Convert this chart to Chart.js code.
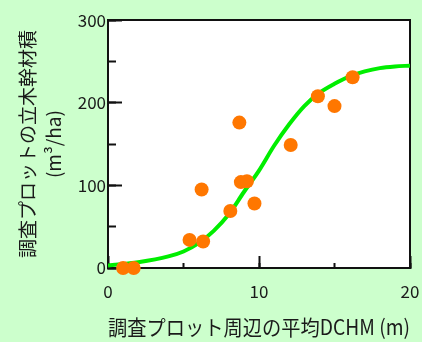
<!DOCTYPE html>
<html>
<head>
<meta charset="utf-8">
<title>立木幹材積と平均DCHM</title>
<script src="https://cdn.jsdelivr.net/npm/chart.js"></script>
<style>
    html, body { margin: 0; padding: 0; background: #ccffcc; }
    #wrap { position: relative; width: 422px; height: 342px; }
    #plotBg { position: absolute; background: #ffffff; }
    #volChart { position: relative; z-index: 1; }
</style>
</head>
<body>
<div id="wrap">
    <div id="plotBg"></div>
    <canvas id="volChart" width="422" height="342"></canvas>
</div>
<script>
// plot observations: mean DCHM (m) vs stem volume (m3/ha)
const plotDchm   = [1.0, 1.7, 5.4, 6.3, 6.2, 8.1, 8.7, 8.8, 9.2, 9.7, 12.1, 13.9, 15.0, 16.2];
const plotVolume = [0,   0,   34,  32,  95,  69,  176, 104, 105, 78,  149,  208,  196,  231];

// fitted curve
const curveDchm   = [0, 2, 4, 5, 6, 7, 8, 9, 10, 11, 12, 13, 14, 15, 16, 17, 18, 19, 20];
const curveVolume = [3, 7, 14, 20, 30, 45, 65, 92, 118, 148, 174, 196, 212, 223, 232, 238, 242, 244, 245];

const xTickLabels = [0, 10, 20];
const yTickLabels = [0, 100, 200, 300];

Chart.defaults.font.family = '"Noto Sans CJK JP", "Noto Sans", sans-serif';
Chart.defaults.color = '#1a1a1a';

const frameColor = '#111111';
const frame = { display: true, color: frameColor, width: 2 };
const noFrame = { display: false };
// inward tick marks: negative tickLength points them into the plot
const inwardTicks = len => ({ display: true, drawOnChartArea: false, drawTicks: true, tickLength: -len, tickColor: frameColor, tickWidth: 2 });

const chart = new Chart(document.getElementById('volChart').getContext('2d'), {
    type: 'scatter',
    data: {
        datasets: [
            {
                data: plotDchm.map((v, i) => ({ x: v, y: plotVolume[i] })),
                backgroundColor: '#ff7700',
                borderWidth: 0,
                pointRadius: 7,
                clip: false
            },
            {
                type: 'line',
                data: curveDchm.map((v, i) => ({ x: v, y: curveVolume[i] })),
                borderColor: '#00ee00',
                borderWidth: 4,
                pointRadius: 0,
                fill: false,
                cubicInterpolationMode: 'monotone'
            }
        ]
    },
    options: {
        responsive: false,
        animation: false,
        layout: { padding: { top: 16, right: 12, left: 0, bottom: 0 } },
        plugins: { legend: { display: false }, tooltip: { enabled: false } },
        scales: {
            x: {
                type: 'linear',
                position: 'bottom',
                weight: 0,
                min: 0, max: 20,
                afterFit: s => { s.height = 74; s.paddingLeft = 0; s.paddingRight = 0; },
                grid: inwardTicks(5),
                border: frame,
                ticks: { stepSize: 5, autoSkip: false, maxRotation: 0, padding: 18, font: { size: 17 },
                    callback: v => xTickLabels.includes(v) ? v : '' },
                title: { display: true, text: '調査プロット周辺の平均DCHM (m)', font: { size: 21 }, padding: { top: 0, bottom: 2 } }
            },
            xMajor: {
                type: 'linear',
                position: 'bottom',
                weight: -1,
                min: 0, max: 20,
                afterFit: s => { s.height = 0; s.paddingLeft = 0; s.paddingRight = 0; },
                grid: inwardTicks(12),
                border: noFrame,
                ticks: { display: false, stepSize: 10 }
            },
            xTop: {
                type: 'linear',
                position: 'top',
                min: 0, max: 20,
                afterFit: s => { s.height = 0; s.paddingLeft = 0; s.paddingRight = 0; },
                grid: { display: false },
                border: frame,
                ticks: { display: false }
            },
            y: {
                type: 'linear',
                position: 'left',
                weight: 0,
                min: 0, max: 300,
                afterFit: s => { s.width = 108; },
                grid: inwardTicks(8),
                border: frame,
                ticks: { stepSize: 50, autoSkip: false, padding: 10, font: { size: 17 },
                    callback: v => yTickLabels.includes(v) ? v : '' },
                title: { display: true, text: ['調査プロットの立木幹材積', '(m³/ha)'], font: { size: 19, lineHeight: 1.4 }, padding: { top: 14, bottom: 0 } }
            },
            yMajor: {
                type: 'linear',
                position: 'left',
                weight: -1,
                min: 0, max: 300,
                afterFit: s => { s.width = 0; },
                grid: inwardTicks(14),
                border: noFrame,
                ticks: { display: false, stepSize: 100 }
            },
            yRight: {
                type: 'linear',
                position: 'right',
                min: 0, max: 300,
                afterFit: s => { s.width = 0; },
                grid: { display: false },
                border: frame,
                ticks: { display: false }
            }
        }
    }
});

// white plot box behind the transparent canvas, sized from the chart area
const a = chart.chartArea;
const bg = document.getElementById('plotBg');
bg.style.left = a.left + 'px';
bg.style.top = a.top + 'px';
bg.style.width = (a.right - a.left) + 'px';
bg.style.height = (a.bottom - a.top) + 'px';
</script>
</body>
</html>
